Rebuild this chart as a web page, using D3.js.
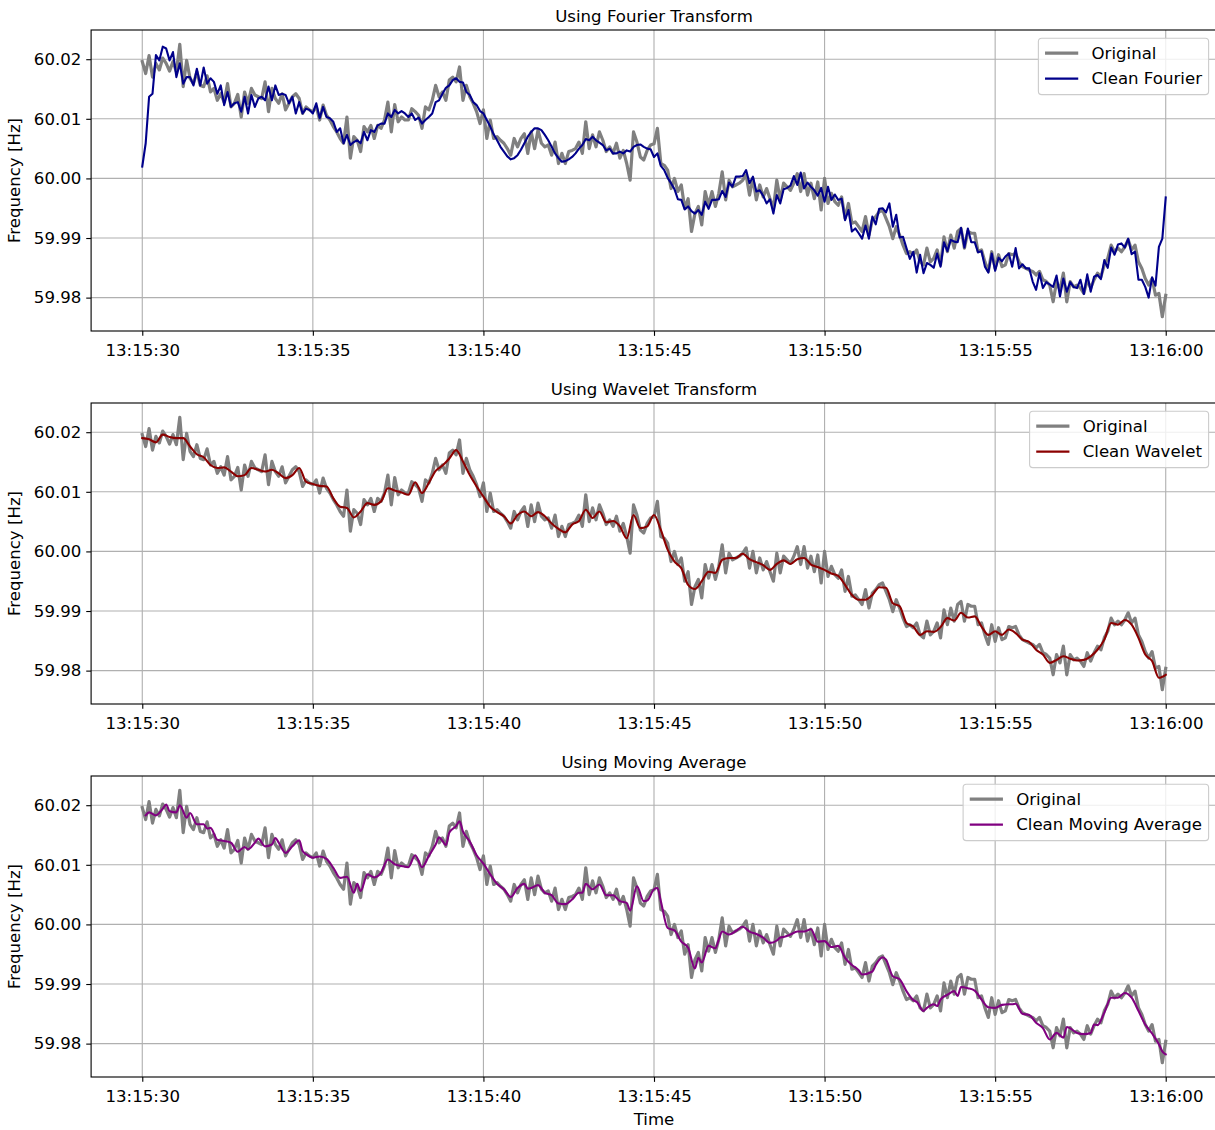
<!DOCTYPE html>
<html>
<head>
<meta charset="utf-8">
<script src="https://cdn.jsdelivr.net/npm/d3@7"></script>
<style>
  body { margin: 0; background: #fff; }
  svg { display: block; font-family: "DejaVu Sans", sans-serif; }
</style>
</head>
<body>
<svg id="chart" width="1215" height="1130"></svg>
<script>
// Grid frequency, 13:15:30 – 13:16:00, sampled every 0.1 s.
// All series are stored as deviations from the nominal 60 Hz, in millihertz.
const NOMINAL_HZ = 60;
const SAMPLE_START = 30;   // seconds after 13:15:00
const SAMPLE_STEP = 0.1;   // seconds between samples

// Raw measurement (one row per second)
const originalMilliHz = [
  19.6, 17.6, 20.6, 17.0, 19.3, 18.2, 20.2, 19.3, 18.0, 19.6,
  17.9, 22.5, 15.4, 19.8, 16.8, 15.9, 17.9, 15.6, 15.4, 17.2,
  14.5, 15.1, 13.1, 14.2, 12.8, 15.9, 12.0, 12.6, 14.1, 10.3,
  14.5, 12.6, 15.1, 14.0, 13.7, 13.4, 16.2, 11.2, 15.1, 13.4,
  12.6, 14.2, 11.5, 12.6, 13.7, 14.2, 13.4, 10.9, 12.0, 11.5,
  11.2, 12.0, 9.8, 12.3, 10.6, 9.8, 8.7, 7.8, 6.7, 5.9,
  10.3, 3.4, 7.0, 6.4, 4.5, 8.7, 7.8, 8.9, 6.7, 8.9,
  8.4, 9.8, 12.8, 7.8, 12.4, 9.5, 10.3, 9.8, 9.8, 11.7,
  11.2, 10.6, 8.4, 12.0, 11.5, 13.1, 15.6, 13.7, 14.5, 13.1,
  16.5, 17.0, 16.2, 18.7, 13.1, 15.6, 13.7, 12.6, 11.2, 9.2,
  11.5, 6.7, 9.8, 6.7, 7.0, 6.4, 5.9, 5.0, 3.9, 6.7,
  5.3, 6.7, 7.5, 4.2, 7.8, 5.0, 8.1, 5.9, 5.3, 5.6,
  3.9, 6.1, 2.5, 4.2, 2.5, 4.5, 4.7, 5.0, 6.1, 4.2,
  9.5, 5.0, 7.3, 5.3, 7.8, 6.4, 4.5, 5.3, 4.2, 5.9,
  3.4, 4.7, 2.5, -0.3, 7.8, 6.1, 3.6, 3.1, 4.7, 5.6,
  5.8, 8.4, 2.5, 2.2, 1.4, -1.7, 0.0, -2.2, -1.1, -5.0,
  -3.4, -8.9, -5.9, -4.7, -7.8, -2.2, -4.5, -2.2, -4.7, -2.5,
  1.1, -3.6, -0.3, -1.4, -1.1, -0.8, -0.3, 0.6, -2.8, 0.0,
  -3.6, -1.1, -3.1, -1.7, -3.4, -5.0, -0.3, -3.6, -0.8, -1.4,
  -2.0, -0.8, 0.8, -2.2, 0.8, -2.8, -0.8, -3.4, -0.6, -5.3,
  0.0, -4.2, -2.5, -3.9, -4.5, -3.1, -6.7, -4.2, -7.5, -7.3,
  -8.1, -8.9, -6.4, -9.5, -7.0, -6.4, -5.6, -5.3, -6.7, -8.1,
  -10.1, -8.1, -9.5, -11.2, -12.6, -12.3, -12.8, -12.0, -14.0, -14.5,
  -11.7, -14.0, -13.4, -12.0, -14.5, -9.8, -12.3, -9.5, -11.7, -8.9,
  -8.4, -11.7, -8.9, -9.2, -9.2, -12.3, -12.0, -14.0, -15.6, -12.3,
  -15.1, -12.8, -14.8, -14.5, -12.6, -12.8, -12.6, -14.0, -14.8, -15.1,
  -15.4, -15.6, -16.2, -15.6, -17.0, -17.3, -17.9, -20.7, -17.3, -18.7,
  -15.9, -20.7, -17.3, -18.2, -17.9, -18.4, -19.3, -17.0, -18.4, -17.0,
  -15.9, -16.5, -14.5, -13.4, -11.2, -12.3, -11.7, -12.3, -11.5, -10.3,
  -12.0, -11.2, -14.0, -15.1, -16.8, -17.9, -16.8, -19.6, -19.3, -23.2,
  -19.6
];

// Fourier-filtered signal on the same sample grid
const fourierMilliHz = [
  2.0, 5.9, 13.7, 14.2, 20.7, 19.8, 22.1, 21.8, 19.8, 21.2,
  17.0, 19.3, 15.9, 17.0, 17.0, 15.6, 18.4, 15.6, 18.6, 15.9,
  16.8, 16.2, 14.2, 15.6, 12.3, 14.5, 12.0, 12.6, 12.8, 11.2,
  13.7, 10.9, 14.0, 12.0, 13.4, 13.7, 13.1, 15.4, 13.1, 15.6,
  14.0, 14.2, 14.0, 12.6, 13.7, 10.9, 12.8, 10.9, 11.7, 11.5,
  10.9, 12.6, 10.1, 12.0, 10.3, 10.1, 9.5, 7.8, 8.4, 5.9,
  7.3, 5.6, 6.1, 6.4, 5.9, 7.8, 6.4, 8.1, 7.8, 8.9,
  9.2, 9.2, 10.9, 10.3, 11.5, 10.9, 11.3, 10.9, 10.3, 10.9,
  9.8, 10.2, 9.2, 9.8, 10.3, 10.9, 12.8, 13.1, 14.2, 15.2,
  15.6, 16.5, 16.8, 16.2, 16.1, 14.5, 14.0, 12.8, 12.3, 11.3,
  10.9, 9.8, 8.7, 7.4, 6.4, 5.3, 4.5, 3.7, 3.2, 3.4,
  3.9, 4.8, 5.9, 7.0, 7.8, 8.4, 8.4, 8.1, 7.3, 6.4,
  5.3, 4.2, 3.4, 2.8, 2.9, 3.2, 3.6, 4.2, 5.0, 5.6,
  6.6, 6.4, 7.0, 6.4, 6.0, 5.6, 4.7, 5.0, 4.2, 4.2,
  4.5, 4.2, 4.7, 4.5, 5.3, 5.6, 5.7, 5.3, 5.0, 4.9,
  3.6, 4.2, 2.1, 1.4, 0.1, -0.8, -1.8, -3.5, -3.6, -5.2,
  -4.7, -5.5, -5.9, -5.3, -6.1, -3.9, -5.1, -3.6, -3.6, -3.5,
  -2.1, -3.1, -0.7, -1.4, 0.3, 0.3, 0.4, 1.4, -0.8, 0.3,
  -2.2, -2.0, -2.9, -4.2, -3.5, -5.9, -2.8, -4.2, -1.8, -1.6,
  -1.2, 0.4, -1.1, 1.0, -1.7, -0.7, -1.4, -2.0, -2.9, -1.6,
  -3.9, -1.4, -3.6, -2.7, -3.6, -3.4, -7.0, -5.3, -8.9, -8.4,
  -9.2, -10.1, -7.9, -10.1, -6.4, -7.7, -5.1, -5.0, -5.7, -4.2,
  -8.1, -6.1, -9.9, -9.8, -11.7, -13.5, -12.3, -15.8, -12.8, -15.9,
  -14.2, -14.5, -15.0, -12.6, -14.8, -10.7, -12.2, -10.3, -10.6, -10.7,
  -8.3, -11.6, -8.4, -10.7, -10.7, -12.4, -12.2, -14.8, -15.8, -12.6,
  -15.5, -13.3, -13.9, -13.1, -12.6, -14.8, -11.7, -15.1, -14.4, -15.1,
  -15.1, -17.3, -18.7, -15.9, -18.4, -17.4, -17.8, -18.2, -16.3, -19.8,
  -16.8, -19.0, -17.4, -18.2, -18.4, -17.0, -19.4, -16.1, -19.0, -16.5,
  -16.2, -16.9, -13.7, -15.0, -11.6, -12.8, -11.1, -10.9, -11.6, -10.1,
  -12.7, -12.3, -17.0, -17.0, -18.2, -20.0, -16.6, -18.0, -11.5, -10.1,
  -3.2
];

// Wavelet-denoised signal: [seconds after 13:15:00, mHz]
const waveletPoints = [
  [30.0, 19.0], [30.2, 18.8], [30.4, 18.3], [30.6, 19.6], [30.8, 19.2],
  [31.0, 19.0], [31.2, 19.0], [31.4, 17.6], [31.6, 16.3], [31.8, 15.8],
  [32.0, 14.5], [32.2, 14.0], [32.4, 14.1], [32.6, 13.4], [32.8, 12.6],
  [33.0, 12.8], [33.2, 14.0], [33.4, 13.7], [33.6, 13.4], [33.8, 13.7],
  [34.0, 13.1], [34.2, 12.3], [34.4, 12.8], [34.6, 14.0], [34.8, 11.7],
  [35.0, 11.3], [35.2, 11.0], [35.4, 10.9], [35.6, 8.9], [35.8, 7.5],
  [36.0, 7.3], [36.2, 5.7], [36.4, 6.7], [36.6, 8.1], [36.8, 7.8],
  [37.0, 8.4], [37.2, 10.6], [37.4, 10.2], [37.6, 9.9], [37.8, 9.5],
  [38.0, 11.6], [38.2, 9.8], [38.4, 11.5], [38.6, 13.5], [38.8, 14.4],
  [39.0, 15.6], [39.2, 17.0], [39.4, 15.1], [39.6, 12.8], [39.8, 10.9],
  [40.0, 9.2], [40.2, 7.5], [40.4, 6.6], [40.6, 5.9], [40.8, 4.7],
  [41.0, 6.1], [41.2, 6.7], [41.4, 5.9], [41.6, 6.6], [41.8, 5.9],
  [42.0, 4.7], [42.2, 3.8], [42.4, 3.2], [42.6, 4.5], [42.8, 5.1],
  [43.0, 7.0], [43.2, 5.6], [43.4, 6.7], [43.6, 4.9], [43.8, 5.1],
  [44.0, 4.2], [44.2, 2.2], [44.4, 6.1], [44.6, 3.9], [44.8, 4.2],
  [45.0, 6.1], [45.2, 3.6], [45.4, 0.3], [45.6, -1.7], [45.8, -2.8],
  [46.0, -5.6], [46.2, -6.3], [46.4, -5.0], [46.6, -3.4], [46.8, -3.6],
  [47.0, -1.4], [47.2, -1.1], [47.4, -1.1], [47.6, -0.4], [47.8, -1.3],
  [48.0, -1.8], [48.2, -2.3], [48.4, -3.1], [48.6, -2.1], [48.8, -1.5],
  [49.0, -2.1], [49.2, -1.3], [49.4, -1.1], [49.6, -2.2], [49.8, -2.6],
  [50.0, -3.1], [50.2, -3.7], [50.4, -4.1], [50.6, -5.6], [50.8, -7.3],
  [51.0, -8.1], [51.2, -8.1], [51.4, -7.3], [51.6, -6.0], [51.8, -6.1],
  [52.0, -8.7], [52.2, -9.2], [52.4, -12.0], [52.6, -12.6], [52.8, -14.0],
  [53.0, -13.4], [53.2, -13.5], [53.4, -12.7], [53.6, -11.2], [53.8, -11.6],
  [54.0, -10.3], [54.2, -11.1], [54.4, -10.9], [54.6, -12.6], [54.8, -14.0],
  [55.0, -13.4], [55.2, -14.0], [55.4, -13.1], [55.6, -13.7], [55.8, -14.8],
  [56.0, -15.2], [56.2, -16.5], [56.4, -17.3], [56.6, -18.7], [56.8, -18.2],
  [57.0, -17.6], [57.2, -18.0], [57.4, -18.3], [57.6, -18.2], [57.8, -17.6],
  [58.0, -16.5], [58.2, -14.8], [58.4, -12.0], [58.6, -12.3], [58.8, -11.5],
  [59.0, -12.3], [59.2, -14.5], [59.4, -17.3], [59.6, -18.4], [59.8, -21.2],
  [60.0, -20.7]
];

// Moving-average signal: [seconds after 13:15:00, mHz]
const movingAveragePoints = [
  [30.1, 18.3], [30.2, 18.8], [30.4, 18.3], [30.6, 19.4], [30.7, 20.1],
  [30.8, 19.0], [31.0, 18.8], [31.1, 20.0], [31.3, 17.9], [31.4, 18.7],
  [31.6, 16.8], [31.8, 16.8], [31.9, 16.1], [32.0, 16.2], [32.2, 14.2],
  [32.4, 14.0], [32.6, 13.7], [32.8, 12.2], [33.0, 13.0], [33.1, 12.6],
  [33.3, 13.7], [33.4, 14.4], [33.6, 13.1], [33.8, 13.4], [33.9, 14.5],
  [34.0, 13.7], [34.2, 12.0], [34.4, 13.1], [34.6, 14.1], [34.7, 12.3],
  [34.8, 11.8], [35.0, 11.2], [35.2, 11.4], [35.4, 11.0], [35.6, 9.5],
  [35.8, 7.8], [36.0, 8.0], [36.2, 5.3], [36.3, 6.8], [36.4, 5.6],
  [36.6, 8.4], [36.8, 7.9], [37.0, 8.7], [37.2, 10.9], [37.4, 10.1],
  [37.6, 9.8], [37.8, 9.6], [38.0, 11.6], [38.2, 9.6], [38.4, 11.5],
  [38.6, 13.4], [38.7, 14.6], [38.8, 14.0], [38.9, 13.3], [39.0, 15.4],
  [39.2, 16.5], [39.3, 17.3], [39.4, 15.6], [39.6, 13.9], [39.8, 11.6],
  [40.0, 10.2], [40.2, 8.4], [40.4, 6.8], [40.6, 5.9], [40.8, 4.6],
  [41.0, 6.1], [41.2, 6.8], [41.3, 6.0], [41.4, 6.1], [41.6, 6.6],
  [41.8, 5.3], [42.0, 4.9], [42.2, 3.5], [42.4, 3.4], [42.6, 4.2],
  [42.8, 5.3], [42.9, 5.3], [43.0, 6.8], [43.2, 5.9], [43.4, 6.7],
  [43.6, 4.9], [43.8, 4.9], [44.0, 3.9], [44.2, 3.6], [44.3, 2.3],
  [44.5, 6.4], [44.7, 3.9], [44.8, 4.0], [45.0, 5.9], [45.1, 6.1],
  [45.2, 3.9], [45.4, -0.6], [45.6, -1.0], [45.8, -2.9], [46.0, -3.9],
  [46.2, -7.4], [46.3, -5.6], [46.4, -6.4], [46.6, -3.6], [46.8, -4.0],
  [46.9, -2.5], [47.0, -1.2], [47.2, -1.7], [47.4, -1.1], [47.6, -0.4],
  [47.8, -1.2], [48.0, -1.6], [48.2, -2.2], [48.4, -3.1], [48.6, -2.7],
  [48.7, -2.2], [48.8, -2.1], [49.0, -1.7], [49.2, -1.2], [49.4, -1.2],
  [49.6, -0.8], [49.8, -2.9], [50.0, -2.8], [50.2, -3.8], [50.4, -3.6],
  [50.6, -5.6], [50.8, -6.8], [51.0, -7.7], [51.1, -8.4], [51.4, -7.9],
  [51.5, -6.8], [51.7, -5.5], [51.8, -5.9], [52.0, -8.7], [52.2, -9.2],
  [52.4, -11.2], [52.6, -12.7], [52.7, -13.0], [52.9, -14.5], [53.0, -14.0],
  [53.2, -13.4], [53.3, -13.7], [53.4, -12.6], [53.6, -11.8], [53.8, -11.2],
  [53.9, -12.0], [54.0, -10.5], [54.2, -10.7], [54.4, -11.1], [54.6, -12.6],
  [54.8, -13.9], [55.0, -14.0], [55.2, -13.5], [55.4, -13.4], [55.5, -13.4],
  [55.6, -13.3], [55.8, -15.0], [56.0, -15.2], [56.2, -16.5], [56.4, -17.4],
  [56.6, -19.3], [56.8, -18.2], [57.0, -19.0], [57.1, -17.2], [57.4, -18.2],
  [57.6, -18.4], [57.8, -18.2], [57.9, -16.8], [58.0, -16.9], [58.2, -14.8],
  [58.4, -12.3], [58.6, -12.3], [58.8, -11.5], [59.0, -12.3], [59.2, -14.5],
  [59.4, -16.8], [59.6, -18.3], [59.8, -20.1], [59.9, -21.3], [60.0, -21.8]
];

const xTickSeconds = [30, 35, 40, 45, 50, 55, 60];
const yTickValues = [59.98, 59.99, 60.00, 60.01, 60.02];
const panelTitles = ["Using Fourier Transform", "Using Wavelet Transform", "Using Moving Average"];
const cleanLabels = ["Clean Fourier", "Clean Wavelet", "Clean Moving Average"];
const cleanColors = ["#00008b", "#8b0000", "#800080"];

// ---- layout ----
const FONT = 16.6;
const PT = 100 / 72;                 // pixels per point
const plotLeft = 91.1, plotRight = 1216.9;
const panelTops = [30, 403, 776];
const panelHeight = 301;
const tickLen = 3.5 * PT, tickPad = 3.5 * PT;
const rawWidth = 3.2, cleanWidth = 2.1;

const baseMs = Date.UTC(2024, 0, 1, 13, 15, 0);
const toDate = s => new Date(baseMs + Math.round(s * 1000));
const toHz = mhz => NOMINAL_HZ + mhz / 1000;

const originalPoints = originalMilliHz.map((v, i) => [SAMPLE_START + i * SAMPLE_STEP, v]);
const fourierPoints = fourierMilliHz.map((v, i) => [SAMPLE_START + i * SAMPLE_STEP, v]);
const cleanSeries = [fourierPoints, waveletPoints, movingAveragePoints];

const x = d3.scaleUtc()
  .domain([toDate(28.5), toDate(61.5)])
  .range([plotLeft, plotRight]);
const yDomain = [59.9744, 60.0249];
const fmtTime = d3.utcFormat("%H:%M:%S");

const svg = d3.select("#chart");

panelTitles.forEach((title, i) => {
  const top = panelTops[i];
  const bottom = top + panelHeight;
  const y = d3.scaleLinear().domain(yDomain).range([bottom, top]);
  const g = svg.append("g");

  svg.append("clipPath").attr("id", "plotclip" + i)
    .append("rect")
    .attr("x", plotLeft).attr("y", top)
    .attr("width", plotRight - plotLeft).attr("height", panelHeight);

  // grid
  const grid = g.append("g").attr("stroke", "#b0b0b0").attr("stroke-width", 0.8 * PT);
  grid.selectAll("line.vx").data(xTickSeconds).join("line")
    .attr("x1", d => x(toDate(d))).attr("x2", d => x(toDate(d)))
    .attr("y1", top).attr("y2", bottom);
  grid.selectAll("line.hy").data(yTickValues).join("line")
    .attr("x1", plotLeft).attr("x2", plotRight)
    .attr("y1", d => y(d)).attr("y2", d => y(d));

  const straight = d3.line()
    .x(d => x(toDate(d[0])))
    .y(d => y(toHz(d[1])));
  const smooth = d3.line()
    .x(d => x(toDate(d[0])))
    .y(d => y(toHz(d[1])))
    .curve(d3.curveMonotoneX);

  const lines = g.append("g").attr("clip-path", `url(#plotclip${i})`)
    .attr("fill", "none").attr("stroke-linejoin", "round").attr("stroke-linecap", "square");
  lines.append("path").datum(originalPoints)
    .attr("d", straight).attr("stroke", "#808080").attr("stroke-width", rawWidth);
  lines.append("path").datum(cleanSeries[i])
    .attr("d", i === 0 ? straight : smooth)
    .attr("stroke", cleanColors[i]).attr("stroke-width", cleanWidth);

  // axes
  const xAxis = d3.axisBottom(x)
    .tickValues(xTickSeconds.map(toDate))
    .tickFormat(fmtTime)
    .tickSizeInner(tickLen).tickSizeOuter(0).tickPadding(tickPad + 3);
  const yAxis = d3.axisLeft(y)
    .tickValues(yTickValues)
    .tickFormat(d3.format(".2f"))
    .tickSizeInner(tickLen).tickSizeOuter(0).tickPadding(tickPad);

  const gx = g.append("g").attr("transform", `translate(0,${bottom})`).call(xAxis);
  const gy = g.append("g").attr("transform", `translate(${plotLeft},0)`).call(yAxis);
  [gx, gy].forEach(a => {
    a.select(".domain").remove();
    a.selectAll("line").attr("stroke", "#000").attr("stroke-width", 0.8 * PT);
    a.selectAll("text").attr("fill", "#000")
      .style("font-family", "'DejaVu Sans', sans-serif").style("font-size", FONT + "px");
  });

  // spines
  g.append("rect")
    .attr("x", plotLeft).attr("y", top)
    .attr("width", plotRight - plotLeft).attr("height", panelHeight)
    .attr("fill", "none").attr("stroke", "#000").attr("stroke-width", 0.8 * PT);

  // y label
  g.append("text")
    .attr("transform", `translate(20,${(top + bottom) / 2}) rotate(-90)`)
    .attr("text-anchor", "middle")
    .style("font-size", FONT + "px")
    .text("Frequency [Hz]");

  // title
  g.append("text")
    .attr("x", (plotLeft + plotRight) / 2).attr("y", top - 6 * PT)
    .attr("text-anchor", "middle")
    .style("font-size", FONT + "px")
    .text(title);

  // legend
  const pad = 0.4 * FONT, handleLen = 2 * FONT, handleGap = 0.8 * FONT;
  const rowGap = 25.5;
  const boxTop = top + 0.5 * FONT;
  const leg = g.append("g");
  const frame = leg.append("rect")
    .attr("fill", "#fff").attr("fill-opacity", 0.8)
    .attr("stroke", "#cccccc").attr("stroke-width", 0.8 * PT)
    .attr("rx", 0.2 * FONT).attr("ry", 0.2 * FONT);
  const entries = [
    { label: "Original", color: "#808080", width: rawWidth },
    { label: cleanLabels[i], color: cleanColors[i], width: cleanWidth }
  ];
  const texts = entries.map((e, k) =>
    leg.append("text")
      .attr("y", boxTop + pad + 8.2 + k * rowGap)
      .attr("dy", "0.35em")
      .style("font-size", FONT + "px")
      .text(e.label));
  const textW = d3.max(texts, t => t.node().getComputedTextLength());
  const boxW = pad + handleLen + handleGap + textW + pad;
  const boxH = 2 * pad + 2 * 17.4 + 0.5 * FONT;
  const boxLeft = plotRight - 0.5 * FONT - boxW;
  frame.attr("x", boxLeft).attr("y", boxTop).attr("width", boxW).attr("height", boxH);
  entries.forEach((e, k) => {
    const cy = boxTop + pad + 8.2 + k * rowGap;
    leg.append("line")
      .attr("x1", boxLeft + pad).attr("x2", boxLeft + pad + handleLen)
      .attr("y1", cy).attr("y2", cy)
      .attr("stroke", e.color).attr("stroke-width", e.width);
    texts[k].attr("x", boxLeft + pad + handleLen + handleGap);
  });

  if (i === panelTitles.length - 1) {
    g.append("text")
      .attr("x", (plotLeft + plotRight) / 2).attr("y", 1125)
      .attr("text-anchor", "middle")
      .style("font-size", FONT + "px")
      .text("Time");
  }
});
</script>
</body>
</html>
